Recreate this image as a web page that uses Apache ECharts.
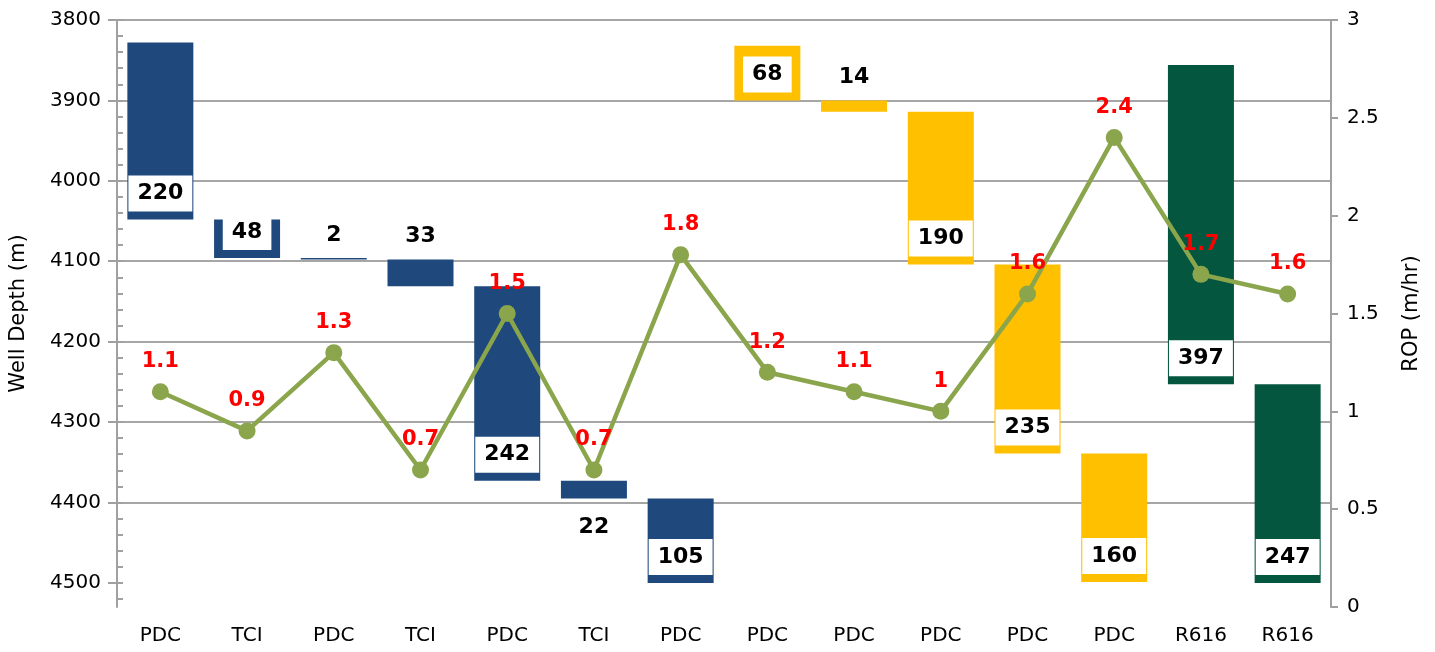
<!DOCTYPE html>
<html>
<head>
<meta charset="utf-8">
<script src="https://cdn.jsdelivr.net/npm/echarts@6/dist/echarts.min.js"></script>
<style>
  html, body { margin: 0; padding: 0; background: #fff; }
  #chart { width: 1435px; height: 652px; }
</style>
</head>
<body>
<div id="chart"></div>
<script>
// ---- data ----
const bitTypes = ['PDC', 'TCI', 'PDC', 'TCI', 'PDC', 'TCI', 'PDC', 'PDC', 'PDC', 'PDC', 'PDC', 'PDC', 'R616', 'R616'];
const startDepth = [3828, 4048, 4096, 4098, 4131, 4373, 4395, 3832, 3900, 3914, 4104, 4339, 3856, 4253];
const intervalLength = [220, 48, 2, 33, 242, 22, 105, 68, 14, 190, 235, 160, 397, 247];
const rop = [1.1, 0.9, 1.3, 0.7, 1.5, 0.7, 1.8, 1.2, 1.1, 1, 1.6, 2.4, 1.7, 1.6];
const runGroup = [0, 0, 0, 0, 0, 0, 0, 1, 1, 1, 1, 1, 2, 2];
const depthTicks = [3800, 3900, 4000, 4100, 4200, 4300, 4400, 4500];
const ropTicks = [0, 0.5, 1, 1.5, 2, 2.5, 3];

// ---- styles ----
const groupColors = ['#1F497D', '#FFC000', '#04573E'];
const labelPlacement = ['box', 'box', 'above', 'above', 'box', 'below', 'box', 'box', 'above', 'box', 'box', 'box', 'box', 'box'];
const FONT = 'DejaVu Sans';

const minorDepthTicks = [];
for (let d = depthTicks[0]; d <= depthTicks[depthTicks.length - 1] + 20; d += 20) minorDepthTicks.push(d);

function barLabel(kind) {
  const base = {
    show: true,
    color: '#000',
    fontFamily: FONT,
    fontWeight: 'bold',
    fontSize: 22,
    lineHeight: 26,
    formatter: '{c}'
  };
  if (kind === 'box') {
    return Object.assign(base, { position: 'insideBottom', distance: 8, backgroundColor: '#fff', padding: [5, 9, 5, 9] });
  } else if (kind === 'above') {
    return Object.assign(base, { position: 'top', distance: 10 });
  }
  return Object.assign(base, { position: 'bottom', distance: 16 });
}

const chart = echarts.init(document.getElementById('chart'), null, { renderer: 'canvas' });

const option = {
  animation: false,
  backgroundColor: '#fff',
  grid: { left: 117, right: 104, top: 20, bottom: 45, containLabel: false },
  xAxis: {
    type: 'category',
    data: bitTypes,
    axisLine: { show: false },
    axisTick: { show: false },
    axisLabel: { fontFamily: FONT, fontSize: 20, color: '#000', margin: 19 }
  },
  yAxis: [
    {
      type: 'value',
      inverse: true,
      min: 3800,
      max: 4530,
      interval: 100,
      position: 'left',
      name: 'Well Depth (m)',
      nameLocation: 'middle',
      nameRotate: 90,
      nameGap: 88,
      nameTextStyle: { fontFamily: FONT, fontSize: 21, color: '#000' },
      axisLine: { show: true, lineStyle: { color: '#A0A0A0', width: 2 } },
      axisTick: { show: true, length: 9, customValues: depthTicks, lineStyle: { color: '#A0A0A0', width: 2 } },
      axisLabel: {
        fontFamily: FONT, fontSize: 20, color: '#000', margin: 16,
        customValues: depthTicks,
        formatter: v => (v % 100 === 0 ? String(v) : '')
      },
      splitLine: { show: true, showMaxLine: false, lineStyle: { color: '#A6A6A6', width: 2 } }
    },
    {
      type: 'value',
      min: 0,
      max: 3,
      interval: 0.5,
      position: 'right',
      name: 'ROP (m/hr)',
      nameLocation: 'middle',
      nameRotate: 90,
      nameGap: 70,
      nameTextStyle: { fontFamily: FONT, fontSize: 21, color: '#000' },
      axisLine: { show: true, lineStyle: { color: '#A0A0A0', width: 2 } },
      axisTick: { show: true, length: 7, lineStyle: { color: '#A0A0A0', width: 2 } },
      axisLabel: { fontFamily: FONT, fontSize: 20, color: '#000', margin: 16 },
      splitLine: { show: false }
    },
    {
      type: 'value',
      inverse: true,
      min: 3800,
      max: 4530,
      position: 'left',
      axisLine: { show: false },
      axisTick: { show: true, inside: true, length: 6, customValues: minorDepthTicks, lineStyle: { color: '#A0A0A0', width: 2 } },
      axisLabel: { show: false },
      splitLine: { show: false }
    }
  ],
  series: [
    {
      type: 'bar',
      stack: 'depth',
      yAxisIndex: 0,
      silent: true,
      barWidth: 66,
      itemStyle: { color: 'transparent' },
      data: startDepth
    },
    {
      type: 'bar',
      stack: 'depth',
      yAxisIndex: 0,
      barWidth: 66,
      data: intervalLength.map((v, i) => ({
        value: v,
        itemStyle: { color: groupColors[runGroup[i]] },
        label: barLabel(labelPlacement[i])
      })),
      z: 2
    },
    {
      type: 'line',
      yAxisIndex: 1,
      data: rop,
      z: 5,
      symbol: 'circle',
      symbolSize: 17,
      lineStyle: { color: '#8AA54B', width: 4.5 },
      itemStyle: { color: '#8AA54B' },
      label: {
        show: true,
        position: 'top',
        distance: 11,
        color: '#FF0000',
        fontFamily: FONT,
        fontWeight: 'bold',
        fontSize: 21
      }
    }
  ]
};

chart.setOption(option);
</script>
</body>
</html>
